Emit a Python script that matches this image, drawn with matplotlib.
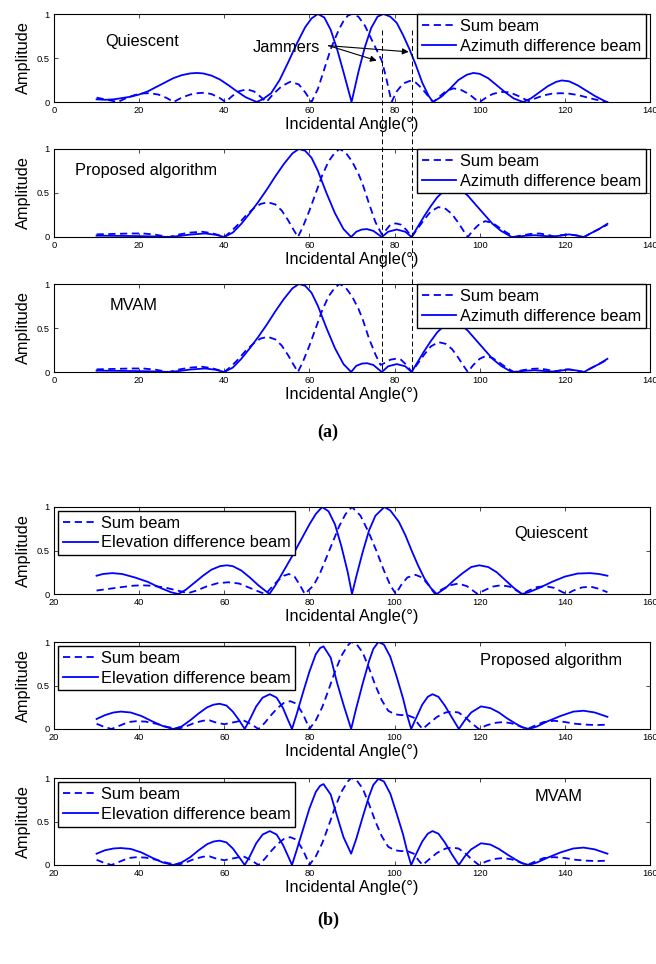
import numpy as np
import matplotlib
matplotlib.use('Agg')
import matplotlib.pyplot as plt
from matplotlib.lines import Line2D
from matplotlib.transforms import blended_transform_factory

plt.rcParams['font.family'] = ['Liberation Sans', 'DejaVu Sans']

# (angle in degrees, amplitude)
# ---- (a) azimuth, quiescent
a_q_sum = [(10, 0.05), (12, 0.03), (14, 0.01), (15, 0.0), (17, 0.045), (19, 0.08), (21, 0.098), (22.5, 0.1),
           (24.5, 0.085), (26.5, 0.045), (28.1, 0.0), (30, 0.05), (32, 0.085), (34, 0.102), (35.5, 0.105),
           (37, 0.09), (38.8, 0.05), (40.3, 0.0), (41.8, 0.065), (43.3, 0.12), (45.3, 0.145), (47, 0.12),
           (48.5, 0.06), (49.9, 0.0), (51.5, 0.09), (53.5, 0.18), (55.5, 0.23), (57.5, 0.2), (59, 0.11),
           (60.5, 0.0), (62, 0.15), (63, 0.3), (64, 0.45), (65, 0.6), (66, 0.72), (67, 0.83), (68, 0.92),
           (69, 0.98), (69.9, 1.0), (71.5, 0.97), (73, 0.87), (74.5, 0.72), (76, 0.57), (77, 0.47), (78, 0.28),
           (79.3, 0.0), (80.5, 0.12), (82, 0.21), (83.6, 0.24), (85, 0.22), (86.5, 0.15), (88, 0.06), (89.1, 0.0),
           (90.5, 0.06), (92, 0.12), (93.8, 0.155), (95.5, 0.14), (97.5, 0.09), (99, 0.03), (100, 0.0),
           (101.5, 0.05), (103, 0.09), (105, 0.115), (107, 0.11), (109, 0.07), (111.5, 0.01), (113, 0.04),
           (115, 0.075), (117, 0.095), (119, 0.1), (121, 0.095), (123, 0.08), (125, 0.055), (127, 0.03),
           (129, 0.01), (130, 0.0)]
a_q_diff = [(10, 0.03), (12, 0.025), (14, 0.03), (16, 0.045), (18, 0.06), (20, 0.085), (22, 0.12), (24, 0.17),
            (26, 0.22), (28, 0.27), (30, 0.305), (32, 0.325), (33.5, 0.33), (35, 0.325), (37, 0.3), (39, 0.255),
            (41, 0.19), (43, 0.12), (45, 0.055), (47.6, 0.0), (49, 0.03), (51, 0.1), (53, 0.25), (55, 0.45),
            (57, 0.66), (59, 0.85), (60.5, 0.95), (62, 1.0), (63.5, 0.96), (65, 0.82), (66.5, 0.6), (68, 0.34),
            (69.9, 0.0), (71.5, 0.34), (73, 0.62), (74.5, 0.84), (76, 0.97), (77.4, 1.0), (79, 0.97),
            (80.5, 0.9), (82, 0.76), (83.5, 0.6), (85, 0.42), (86.5, 0.22), (88, 0.07), (89, 0.0), (91, 0.06),
            (93, 0.15), (95, 0.25), (97, 0.31), (98.5, 0.33), (100, 0.32), (102, 0.27), (104, 0.19), (106, 0.11),
            (108, 0.04), (110.2, 0.0), (112, 0.04), (114, 0.11), (116, 0.18), (118, 0.23), (119.3, 0.245),
            (121, 0.235), (123, 0.19), (125, 0.13), (127, 0.07), (129.8, 0.0), (130, 0.0)]
# ---- (a) azimuth, proposed algorithm
a_p_sum = [(10, 0.03), (14, 0.035), (18, 0.04), (21, 0.04), (24, 0.025), (27, 0.0), (29.5, 0.03), (32, 0.05),
           (34.7, 0.06), (37, 0.045), (38.8, 0.02), (40, 0.0), (41.5, 0.06), (43, 0.13), (45, 0.24), (47, 0.33),
           (48.5, 0.375), (50.2, 0.395), (52, 0.37), (53.5, 0.3), (55, 0.19), (56.3, 0.08), (57.3, 0.0),
           (58.5, 0.12), (60, 0.3), (61.5, 0.5), (63, 0.7), (64.5, 0.86), (66, 0.96), (67.1, 1.0), (68.5, 0.96),
           (70, 0.86), (71.5, 0.72), (72.5, 0.6), (74, 0.38), (75.5, 0.17), (77, 0.03), (78, 0.08), (79, 0.14),
           (80.3, 0.155), (81.5, 0.14), (82.8, 0.08), (84, 0.0), (85.5, 0.1), (87, 0.2), (88.5, 0.29),
           (90.3, 0.34), (92, 0.32), (93.5, 0.26), (95, 0.16), (96.2, 0.07), (97.2, 0.0), (98.5, 0.08),
           (100, 0.15), (101.3, 0.18), (103, 0.16), (104.5, 0.11), (106, 0.06), (108, 0.0), (110, 0.02),
           (112, 0.035), (114, 0.04), (116, 0.025), (117.5, 0.005), (119, 0.02), (120.5, 0.03), (122.5, 0.02),
           (124.5, 0.0), (126, 0.04), (128, 0.09), (130, 0.14)]
a_p_diff = [(10, 0.015), (15, 0.013), (20, 0.01), (24, 0.006), (27, 0.0), (29.5, 0.012), (32, 0.028),
            (35.5, 0.04), (38, 0.025), (40, 0.0), (42, 0.05), (44, 0.15), (46, 0.27), (48, 0.4), (50, 0.54),
            (52, 0.69), (54, 0.83), (56, 0.95), (57.5, 1.0), (59, 0.98), (60.5, 0.9), (62, 0.75), (64, 0.5),
            (66, 0.27), (68, 0.09), (69.8, 0.0), (71, 0.06), (72.3, 0.085), (73.5, 0.09), (75, 0.07), (77, 0.0),
            (78.5, 0.06), (80.5, 0.085), (82.5, 0.06), (84, 0.0), (85.5, 0.12), (87, 0.24), (88.5, 0.35),
            (90, 0.45), (91.5, 0.52), (93.5, 0.57), (95.5, 0.54), (97.2, 0.47), (99, 0.37), (101, 0.26),
            (103, 0.15), (105, 0.07), (107.5, 0.0), (109, 0.005), (111, 0.015), (113, 0.02), (115, 0.012),
            (117, 0.005), (119, 0.015), (121, 0.03), (123, 0.015), (124.5, 0.0), (126, 0.04), (128, 0.09),
            (130, 0.15)]
# ---- (a) azimuth, MVAM
a_m_sum = [(10, 0.03), (14, 0.035), (18, 0.04), (21, 0.04), (24, 0.025), (27, 0.0), (29.5, 0.03), (32, 0.05),
           (34.7, 0.06), (37, 0.045), (38.8, 0.02), (40, 0.0), (41.5, 0.06), (43, 0.13), (45, 0.24), (47, 0.33),
           (48.5, 0.38), (50.2, 0.4), (52, 0.37), (53.5, 0.3), (55, 0.19), (56.3, 0.08), (57.3, 0.0),
           (58.5, 0.12), (60, 0.3), (61.5, 0.5), (63, 0.7), (64.5, 0.86), (66, 0.96), (67.1, 1.0), (68.5, 0.96),
           (70, 0.86), (71.5, 0.72), (72.5, 0.6), (74, 0.38), (75.5, 0.2), (76.7, 0.08), (78, 0.11), (79, 0.14),
           (80.3, 0.15), (81.5, 0.14), (82.8, 0.08), (84, 0.0), (85.5, 0.1), (87, 0.2), (88.5, 0.29),
           (90.3, 0.34), (92, 0.32), (93.5, 0.26), (95, 0.16), (96.2, 0.07), (97.2, 0.0), (98.5, 0.08),
           (100, 0.15), (101.3, 0.18), (103, 0.16), (104.5, 0.11), (106, 0.06), (108, 0.0), (110, 0.02),
           (112, 0.035), (114, 0.04), (116, 0.025), (117.5, 0.005), (119, 0.02), (120.5, 0.03), (122.5, 0.02),
           (124.5, 0.0), (126, 0.04), (128, 0.09), (130, 0.14)]
a_m_diff = [(10, 0.015), (15, 0.013), (20, 0.01), (24, 0.006), (27, 0.0), (29.5, 0.012), (32, 0.028),
            (35.5, 0.04), (38, 0.025), (40, 0.0), (42, 0.05), (44, 0.15), (46, 0.27), (48, 0.4), (50, 0.54),
            (52, 0.69), (54, 0.83), (56, 0.95), (57.5, 1.0), (59, 0.98), (60.5, 0.9), (62, 0.75), (64, 0.5),
            (66, 0.27), (68, 0.09), (69.8, 0.0), (71, 0.07), (72.3, 0.095), (73.5, 0.1), (75, 0.08), (77, 0.0),
            (78.5, 0.065), (80.5, 0.09), (82.5, 0.065), (84, 0.0), (85.5, 0.12), (87, 0.24), (88.5, 0.35),
            (90, 0.45), (91.5, 0.52), (93.5, 0.57), (95.5, 0.54), (97.2, 0.47), (99, 0.37), (101, 0.26),
            (103, 0.15), (105, 0.07), (107.5, 0.0), (109, 0.005), (111, 0.015), (113, 0.02), (115, 0.012),
            (117, 0.005), (119, 0.015), (121, 0.03), (123, 0.015), (124.5, 0.0), (126, 0.04), (128, 0.09),
            (130, 0.15)]
# ---- (b) elevation, quiescent
b_q_sum = [(30, 0.04), (33, 0.06), (36, 0.08), (38.5, 0.095), (40.5, 0.1), (43, 0.095), (46, 0.075), (49, 0.04),
           (51.5, 0.01), (53.5, 0.04), (56, 0.09), (58.5, 0.125), (61, 0.135), (63.5, 0.12), (66, 0.07),
           (68.5, 0.02), (69.7, 0.0), (71, 0.07), (72.5, 0.15), (74, 0.21), (75.2, 0.23), (76.5, 0.2),
           (77.8, 0.1), (78.9, 0.0), (81, 0.1), (82.5, 0.24), (84, 0.42), (85.5, 0.6), (87, 0.78), (88.5, 0.92),
           (90, 1.0), (92, 0.9), (94, 0.7), (95.7, 0.5), (97.5, 0.27), (99, 0.1), (100.3, 0.0), (101.5, 0.1),
           (103, 0.19), (104.9, 0.22), (106.5, 0.19), (108, 0.1), (109.5, 0.0), (111, 0.05), (113, 0.1),
           (115, 0.12), (117, 0.09), (119.5, 0.0), (121, 0.04), (123, 0.085), (125, 0.1), (127, 0.085),
           (129, 0.03), (130, 0.0), (131.5, 0.04), (133.5, 0.08), (135.5, 0.09), (137.5, 0.07), (139.5, 0.02),
           (140.5, 0.0), (142, 0.04), (144, 0.075), (146, 0.085), (148, 0.06), (150, 0.02)]
b_q_diff = [(30, 0.21), (31.5, 0.23), (33.7, 0.24), (36, 0.23), (39, 0.19), (42, 0.14), (45, 0.07), (47.5, 0.02),
            (49.2, 0.0), (51, 0.05), (53, 0.13), (55, 0.21), (57, 0.28), (59, 0.32), (60.6, 0.33), (62, 0.32),
            (64, 0.27), (66, 0.19), (68, 0.1), (70.6, 0.0), (72, 0.1), (74, 0.27), (76, 0.44), (78, 0.62),
            (80, 0.8), (81.5, 0.92), (83, 1.0), (84.5, 0.95), (86, 0.8), (87.5, 0.55), (89, 0.25), (90, 0.0),
            (91, 0.2), (92.5, 0.48), (94, 0.73), (95.5, 0.9), (97.6, 1.0), (99, 0.96), (101, 0.83), (102.5, 0.68),
            (104, 0.5), (105.5, 0.33), (107, 0.18), (108.5, 0.07), (109.9, 0.0), (112, 0.07), (114, 0.16),
            (116, 0.24), (118, 0.31), (119.9, 0.33), (122, 0.31), (124, 0.25), (126, 0.16), (128, 0.07),
            (129.9, 0.0), (131.5, 0.02), (134, 0.07), (137, 0.14), (140, 0.2), (143, 0.235), (145.9, 0.24),
            (148, 0.23), (150, 0.21)]
# ---- (b) elevation, proposed algorithm
b_p_sum = [(30, 0.06), (31.5, 0.03), (33.5, 0.0), (35.5, 0.04), (37.5, 0.08), (39.4, 0.09), (41.5, 0.085),
           (44, 0.06), (46.5, 0.025), (49, 0.0), (51, 0.03), (53, 0.07), (55, 0.095), (56.5, 0.1), (58, 0.075),
           (60, 0.055), (62, 0.075), (64.5, 0.1), (66.5, 0.05), (68, 0.0), (69.5, 0.07), (71, 0.16),
           (72.5, 0.24), (74, 0.3), (75.5, 0.32), (77, 0.29), (78.5, 0.17), (79.5, 0.06), (80, 0.0),
           (81.5, 0.1), (83, 0.25), (84.5, 0.45), (86, 0.66), (87.5, 0.84), (89, 0.96), (89.8, 1.0), (91, 0.98),
           (92.5, 0.88), (94, 0.7), (95.5, 0.5), (97, 0.33), (98.5, 0.21), (100, 0.17), (101.5, 0.16),
           (103, 0.16), (104.5, 0.13), (105.7, 0.05), (106.6, 0.0), (108, 0.06), (110, 0.14), (112, 0.19),
           (113.5, 0.2), (115, 0.19), (116.5, 0.14), (118, 0.07), (119.8, 0.0), (121.5, 0.04), (123.5, 0.07),
           (125.5, 0.08), (127.5, 0.065), (129.5, 0.03), (131.2, 0.0), (133, 0.04), (135, 0.08), (137.5, 0.095),
           (140, 0.08), (142.5, 0.06), (145, 0.05), (147.5, 0.045), (150, 0.05)]
b_p_diff = [(30, 0.115), (32, 0.16), (34, 0.19), (35.7, 0.2), (38, 0.19), (40.5, 0.15), (43, 0.09), (45.5, 0.035),
            (48, 0.0), (50, 0.03), (52, 0.1), (54, 0.18), (56, 0.25), (57.5, 0.28), (58.9, 0.29), (60.5, 0.27),
            (62, 0.2), (63.5, 0.1), (64.8, 0.0), (66, 0.11), (67.5, 0.26), (69, 0.36), (70.7, 0.4),
            (72.3, 0.36), (73.8, 0.24), (75, 0.1), (75.9, 0.0), (77, 0.17), (78.5, 0.42), (80, 0.66),
            (81.5, 0.86), (82.5, 0.93), (83.3, 0.95), (85, 0.82), (86.5, 0.53), (88, 0.28), (89.8, 0.0),
            (91, 0.24), (92.5, 0.52), (94, 0.78), (95, 0.92), (96.2, 1.0), (97.5, 0.97), (99, 0.83),
            (100.5, 0.6), (102, 0.35), (103, 0.15), (103.9, 0.0), (105, 0.12), (106.5, 0.28), (107.8, 0.37),
            (108.9, 0.4), (110.3, 0.37), (111.8, 0.27), (113.5, 0.13), (115.1, 0.0), (116.5, 0.1), (118, 0.19),
            (120.3, 0.26), (122.5, 0.24), (124.5, 0.19), (126.5, 0.12), (128.5, 0.06), (130, 0.02),
            (131.6, 0.0), (133.5, 0.03), (136, 0.09), (139, 0.15), (142, 0.2), (144.4, 0.21), (147, 0.19),
            (150, 0.14)]
# ---- (b) elevation, MVAM
b_m_sum = [(30, 0.06), (31.5, 0.03), (33.5, 0.0), (35.5, 0.04), (37.5, 0.08), (39.4, 0.09), (41.5, 0.085),
           (44, 0.06), (46.5, 0.025), (49, 0.0), (51, 0.03), (53, 0.07), (55, 0.095), (56.5, 0.1), (58, 0.075),
           (60, 0.055), (62, 0.075), (64.5, 0.1), (66.5, 0.05), (68, 0.0), (69.5, 0.07), (71, 0.16),
           (72.5, 0.24), (74, 0.3), (75.5, 0.32), (77, 0.29), (78.5, 0.17), (79.5, 0.06), (80, 0.0),
           (81.5, 0.1), (83, 0.25), (84.5, 0.45), (86, 0.66), (87.5, 0.84), (89, 0.96), (89.8, 1.0), (91, 0.98),
           (92.5, 0.88), (94, 0.7), (95.5, 0.5), (97, 0.33), (98.5, 0.21), (100, 0.17), (101.5, 0.16),
           (103, 0.16), (104.5, 0.13), (105.7, 0.05), (106.6, 0.0), (108, 0.06), (110, 0.14), (112, 0.19),
           (113.5, 0.2), (115, 0.19), (116.5, 0.14), (118, 0.07), (119.8, 0.0), (121.5, 0.04), (123.5, 0.07),
           (125.5, 0.08), (127.5, 0.065), (129.5, 0.03), (131.2, 0.0), (133, 0.04), (135, 0.08), (137.5, 0.09),
           (140, 0.08), (142.5, 0.06), (145, 0.05), (147.5, 0.045), (150, 0.05)]
b_m_diff = [(30, 0.13), (32, 0.17), (34, 0.19), (35.7, 0.195), (38, 0.185), (40.5, 0.145), (43, 0.085),
            (45.5, 0.03), (48, 0.0), (50, 0.03), (52, 0.09), (54, 0.17), (56, 0.24), (57.5, 0.27), (58.9, 0.28),
            (60.5, 0.26), (62, 0.19), (63.5, 0.09), (64.8, 0.0), (66, 0.1), (67.5, 0.25), (69, 0.35),
            (70.7, 0.39), (72.3, 0.35), (73.8, 0.23), (75, 0.1), (75.9, 0.0), (77, 0.17), (78.5, 0.41),
            (80, 0.65), (81.5, 0.84), (82.5, 0.91), (83.3, 0.93), (85, 0.81), (86.5, 0.56), (88, 0.32),
            (89.8, 0.13), (91, 0.3), (92.5, 0.55), (94, 0.79), (95, 0.92), (96.2, 0.99), (97.5, 0.96),
            (99, 0.82), (100.5, 0.59), (102, 0.35), (103, 0.15), (103.9, 0.0), (105, 0.12), (106.5, 0.27),
            (107.8, 0.36), (108.9, 0.39), (110.3, 0.36), (111.8, 0.26), (113.5, 0.12), (115.1, 0.0),
            (116.5, 0.1), (118, 0.18), (120.3, 0.25), (122.5, 0.235), (124.5, 0.185), (126.5, 0.12),
            (128.5, 0.06), (130, 0.02), (131.6, 0.0), (133.5, 0.03), (136, 0.085), (139, 0.145), (142, 0.19),
            (144.4, 0.2), (147, 0.18), (150, 0.13)]

jammer_angles = [77, 84]
a_xticks = [0, 20, 40, 60, 80, 100, 120, 140]
b_xticks = [20, 40, 60, 80, 100, 120, 140, 160]
yticks = [0, 0.5, 1]
ytick_labels = ['0', '0.5', '1']

W, H = 656, 964
fig = plt.figure(figsize=(W / 100, H / 100), dpi=100)
FS = 11.8
TFS = 6.7


def make_ax(top, bottom):
    return fig.add_axes([54 / W, 1 - bottom / H, 596 / W, (bottom - top) / H])


def style(ax, xticks):
    ax.set_xlim(xticks[0], xticks[-1])
    ax.set_ylim(0, 1)
    ax.set_xticks(xticks)
    ax.set_yticks(yticks)
    ax.set_yticklabels(ytick_labels)
    ax.tick_params(direction='in', length=3, width=0.5, top=True, right=True, labelsize=TFS)
    ax.tick_params(axis='x', pad=3)
    ax.tick_params(axis='y', pad=3)
    for s in ax.spines.values():
        s.set_linewidth(0.8)
    ax.set_xlabel('Incidental Angle(°)', fontsize=FS, labelpad=1.5)
    ax.set_ylabel('Amplitude', fontsize=FS, labelpad=4)


def draw(ax, sum_pts, diff_pts, diff_name, legend_anchor, legend_loc):
    sx, sy = np.array(sum_pts).T
    dx, dy = np.array(diff_pts).T
    ax.plot(sx, sy, color='#0000ff', lw=1.3, dashes=(4, 2.5), label='Sum beam')
    ax.plot(dx, dy, color='#0000ff', lw=1.3, label=diff_name)
    leg = ax.legend(loc=legend_loc, bbox_to_anchor=legend_anchor, fontsize=FS, handlelength=2.1,
                    handletextpad=0.2, borderpad=0.3, labelspacing=0.28, borderaxespad=0,
                    fancybox=False, framealpha=1)
    leg.get_frame().set_edgecolor('black')
    leg.get_frame().set_linewidth(1.0)


panels_a = [(14, 102, a_q_sum, a_q_diff, 'Quiescent', 12, 0.69),
            (149, 237, a_p_sum, a_p_diff, 'Proposed algorithm', 5, 0.75),
            (284, 372, a_m_sum, a_m_diff, 'MVAM', 13, 0.76)]
axes_a = []
for top, bot, s, d, name, tx, ty in panels_a:
    ax = make_ax(top, bot)
    style(ax, a_xticks)
    draw(ax, s, d, 'Azimuth difference beam', (0.993, 1.0), 'upper right')
    ax.text(tx, ty, name, fontsize=FS, va='center')
    axes_a.append(ax)

panels_b = [(507, 594, b_q_sum, b_q_diff, 'Quiescent', 128, 0.7, 0.957),
            (642, 729, b_p_sum, b_p_diff, 'Proposed algorithm', 120, 0.79, 0.954),
            (778, 865, b_m_sum, b_m_diff, 'MVAM', 133, 0.79, 0.951)]
for top, bot, s, d, name, tx, ty, ly in panels_b:
    ax = make_ax(top, bot)
    style(ax, b_xticks)
    draw(ax, s, d, 'Elevation difference beam', (0.007, ly), 'upper left')
    ax.text(tx, ty, name, fontsize=FS, va='center')

# jammer markers across the three azimuth panels
trans = blended_transform_factory(axes_a[2].transData, fig.transFigure)
for ang in jammer_angles:
    fig.add_artist(Line2D([ang, ang], [1 - 30 / H, 1 - 372 / H], transform=trans, color='black',
                          lw=0.7, dashes=(5, 3), zorder=5))

ax1 = axes_a[0]
ax1.text(54.5, 0.62, 'Jammers', fontsize=FS, ha='center', va='center')
for tip in [(75.8, 0.47), (83.3, 0.57)]:
    ax1.annotate('', xy=tip, xytext=(64.5, 0.64),
                 arrowprops=dict(arrowstyle='-|>', color='black', lw=0.8, mutation_scale=9,
                                 shrinkA=0, shrinkB=0))

fig.text(0.5, 1 - 432 / H, '(a)', fontsize=13, fontweight='bold', family='Liberation Serif',
         ha='center', va='center')
fig.text(0.5, 1 - 920 / H, '(b)', fontsize=13, fontweight='bold', family='Liberation Serif',
         ha='center', va='center')

fig.savefig('out.png', dpi=100)
